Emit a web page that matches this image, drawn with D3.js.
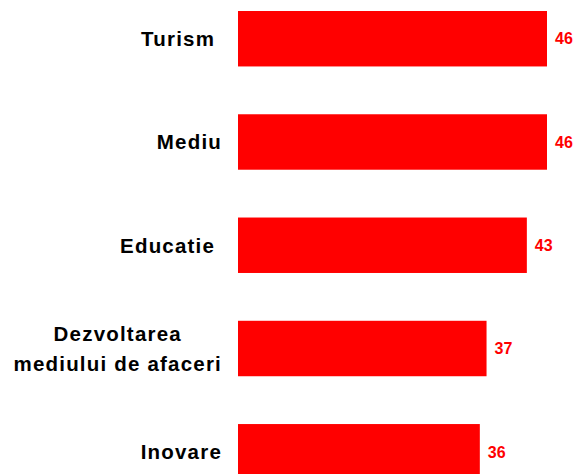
<!DOCTYPE html>
<html>
<head>
<meta charset="utf-8">
<script src="https://cdn.jsdelivr.net/npm/d3@7"></script>
<style>
  body { margin: 0; background: #fff; }
  svg { display: block; font-family: "Liberation Sans", Arial, sans-serif; }
</style>
</head>
<body>
<div id="chart"></div>
<script>
//chart data - labels keep their trailing spaces as in the original
const categories = ["Turism ", "Mediu", "Educatie ", "Dezvoltarea\nmediului de afaceri", "Inovare"];
const values = [46, 46, 43, 37, 36];

const width = 578;
const height = 474;
const barColor = "#ff0000";

const svg = d3.select("#chart")
    .append("svg")
    .attr("width", width)
    .attr("height", height);

//x starts at the left edge of the bars
const xscale = d3.scaleLinear()
    .domain([0, d3.max(values)])
    .range([238, 547]);

const yscale = d3.scaleBand()
    .domain(categories)
    .range([11, 479.5])
    .paddingInner(0.463)
    .paddingOuter(0);

const data = categories.map((c, i) => ({ cat: c, value: values[i] }));

//bars
svg.selectAll("rect.bar")
    .data(data)
    .join("rect")
    .attr("class", "bar")
    .attr("x", xscale(0))
    .attr("y", d => yscale(d.cat))
    .attr("width", d => xscale(d.value) - xscale(0))
    .attr("height", yscale.bandwidth())
    .attr("fill", barColor);

//value labels
svg.selectAll("text.val")
    .data(data)
    .join("text")
    .attr("class", "val")
    .attr("x", d => xscale(d.value) + 8)
    .attr("y", d => yscale(d.cat) + yscale.bandwidth() / 2)
    .attr("dy", "0.36em")
    .attr("fill", barColor)
    .attr("font-size", "16px")
    .attr("font-weight", "bold")
    .text(d => d3.format("d")(d.value));

//category labels, right aligned; wrapped lines are centred on each other
const labelRight = 222;
const lineGap = 30;

data.forEach(d => {
  const lines = d.cat.split("\n");
  const cy = yscale(d.cat) + yscale.bandwidth() / 2;
  const t = svg.append("text")
      .attr("font-size", "20.5px")
      .attr("font-weight", "bold")
      .attr("fill", "#000")
      .attr("letter-spacing", "1.2px")
      .style("white-space", "pre");
  const spans = lines.map((ln, i) => t.append("tspan")
      .attr("y", cy + (i - (lines.length - 1) / 2) * lineGap)
      .attr("dy", "0.36em")
      .text(ln));
  const widths = spans.map(s => s.node().getComputedTextLength());
  const maxW = d3.max(widths);
  if (lines.length > 1) {
    spans.forEach(s => s.attr("x", labelRight - maxW / 2).attr("text-anchor", "middle"));
  } else {
    spans[0].attr("x", labelRight).attr("text-anchor", "end");
  }
});
</script>
</body>
</html>
